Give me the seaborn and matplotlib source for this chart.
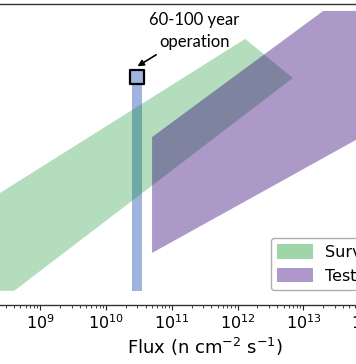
import numpy as np
import pandas as pd
import matplotlib
matplotlib.use("Agg")
import matplotlib.pyplot as plt
import seaborn as sns
from matplotlib.patches import Patch

# data (flux in n cm^-2 s^-1, y in arbitrary units)
surv_flux = [1e8, 4.0e8, 6.9e12, 1.3e12, 1e8]
surv_y = [0.47, 0.47, 7.54, 8.84, 3.19]

test_flux = [5.0e10, 5.0e10, 2.0e13, 1e15, 1e15]
test_y = [1.73, 5.58, 9.77, 9.77, 6.94]

op_flux = [2.5e10, 3.5e10]
op_y = [0.47, 7.57]
op_point = pd.DataFrame({"flux": [2.96e10], "y": [7.57]})

legend_labels = ["Surveillance", "Test reactors"]

sns.set_style("ticks")
plt.rcParams["font.family"] = ["DejaVu Sans"]

fig = plt.figure(figsize=(3.56, 3.64), dpi=100)
ax = fig.add_axes([-0.0716, 0.162, 1.2935, 0.827])

# operation window bar
ax.fill_between(op_flux, op_y[0], op_y[1], color="#4169be", alpha=0.5, lw=0, zorder=1)
# surveillance band
ax.fill(surv_flux, surv_y, color="#059126", alpha=0.3, lw=0, zorder=2)
# test reactor band
ax.fill(test_flux, test_y, color="#300076", alpha=0.4, lw=0, zorder=3)

sns.scatterplot(data=op_point, x="flux", y="y", marker="s", s=90,
                color="#a0b4de", edgecolor="black", linewidth=1.6, zorder=5, ax=ax)

ax.annotate("60-100 year\noperation", xy=(3.0e10, 7.93), xytext=(2.2e11, 9.1),
            ha="center", va="center", fontsize=12, family=["Lato", "DejaVu Sans"],
            linespacing=1.45, color="black",
            arrowprops=dict(arrowstyle="-|>", color="black", lw=1.2, mutation_scale=9,
                            shrinkA=2, shrinkB=0))

ax.set_xscale("log")
ax.set_xlim(1e8, 1e15)
ax.set_ylim(0, 10)
ax.set_yticks([])
ax.set_ylabel("")
ax.set_xlabel("Flux (n cm$^{-2}$ s$^{-1}$)", fontsize=13, labelpad=3, color="black")
ax.tick_params(axis="x", which="major", labelsize=11.5, colors="#222222",
               labelcolor="black", pad=2.5)
ax.tick_params(axis="x", which="minor", colors="#222222")
for s in ax.spines.values():
    s.set_color("#333333")
    s.set_linewidth(1.0)

handles = [Patch(facecolor="#9ed6aa", edgecolor="none"),
           Patch(facecolor="#ad98c9", edgecolor="none")]
leg = ax.legend(handles, legend_labels, loc="lower left", bbox_to_anchor=(0.644, 0.05),
                borderaxespad=0, fontsize=11.5, handlelength=2.2, handleheight=1.0,
                frameon=True, edgecolor="#999999", fancybox=True)
for t in leg.get_texts():
    t.set_color("black")

fig.savefig("out.png", dpi=100)
